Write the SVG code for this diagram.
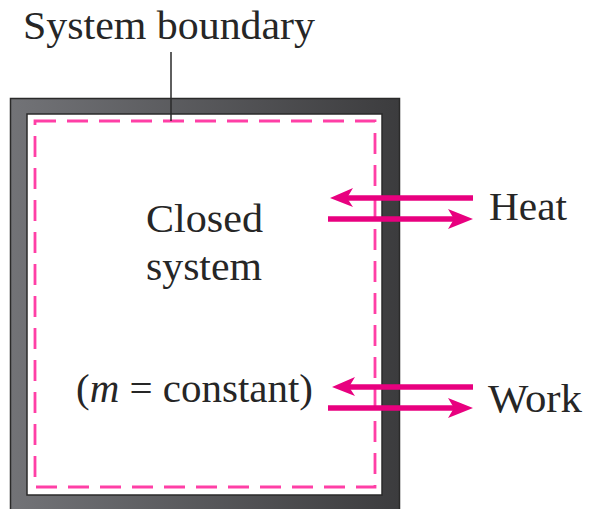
<svg xmlns="http://www.w3.org/2000/svg" width="589" height="509" viewBox="0 0 589 509">
<style>
.t{font-family:"Liberation Serif","Times New Roman",serif;font-size:41px;fill:#262626}
.arr{stroke:#e8007f;stroke-width:5.5;fill:none}
.head{fill:#e8007f}
</style>
<defs>
<linearGradient id="g" x1="0" y1="0" x2="1" y2="0">
<stop offset="0" stop-color="#727377"/>
<stop offset="1" stop-color="#3c3c3e"/>
</linearGradient>
</defs>
<rect width="589" height="509" fill="#fff"/>
<g id="container">
<rect x="10.5" y="98.5" width="389" height="420" fill="url(#g)" stroke="#2a2a2a" stroke-width="1.5"/>
<rect x="27" y="114" width="355" height="381" fill="#fff" stroke="#2a2a2a" stroke-width="1.5"/>
</g>
<g id="boundary">
<rect x="35" y="121" width="340" height="366" fill="none" stroke="#ff3fa6" stroke-width="2.8" stroke-dasharray="21 11"/>
</g>
<g id="labels">
<text class="t" x="23" y="39" textLength="292" lengthAdjust="spacingAndGlyphs">System boundary</text>
<text class="t" x="146" y="232" textLength="117" lengthAdjust="spacingAndGlyphs">Closed</text>
<text class="t" x="146" y="280" textLength="116" lengthAdjust="spacingAndGlyphs">system</text>
<text class="t" x="76" y="402" textLength="237" lengthAdjust="spacingAndGlyphs">(<tspan font-style="italic">m</tspan> = constant)</text>
<text class="t" x="489" y="220" textLength="78" lengthAdjust="spacingAndGlyphs">Heat</text>
<text class="t" x="488" y="412" textLength="94" lengthAdjust="spacingAndGlyphs">Work</text>
</g>
<g id="connectors">
<line x1="171" y1="52" x2="171" y2="121" stroke="#2a2a2a" stroke-width="1.5"/>
<line class="arr" x1="473" y1="198" x2="345" y2="198"/>
<polygon class="head" points="330,198 353,188 347,198 353,207"/>
<line class="arr" x1="328" y1="219" x2="458" y2="219"/>
<polygon class="head" points="473,219 448,209 454,219 448,229"/>
<line class="arr" x1="473" y1="387" x2="347" y2="387"/>
<polygon class="head" points="332,387 355,377 349,387 355,396"/>
<line class="arr" x1="328" y1="408" x2="458" y2="408"/>
<polygon class="head" points="473,408 448,398 454,408 448,418"/>
</g>
</svg>
